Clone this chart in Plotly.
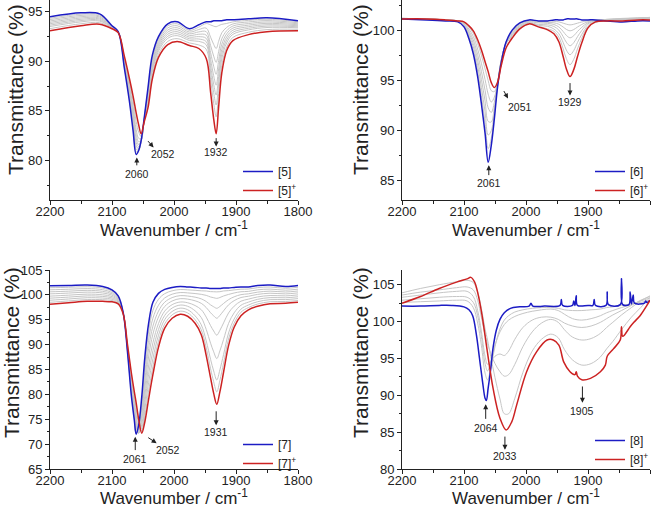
import plotly.graph_objects as go

# ---------------- Panel 1 : [5] / [5]+ ----------------
wn1 = [2200, 2150, 2120, 2100, 2090, 2080, 2072, 2066, 2061, 2057, 2053, 2048, 2042, 2035, 2025,
       2010, 1995, 1975, 1960, 1948, 1941, 1936, 1932, 1928, 1923, 1915, 1905, 1880, 1850, 1800]
blue1 = [94.5, 94.9, 94.8, 93.6, 93.0, 89.3, 86.0, 83.0, 80.6, 81.0, 82.0, 84.3, 87.3, 90.6, 92.5,
         93.8, 94.0, 93.3, 93.7, 94.0, 94.0, 94.1, 94.1, 94.1, 94.1, 94.2, 94.2, 94.3, 94.4, 94.1]
red1 = [93.1, 93.6, 93.75, 93.3, 92.9, 90.5, 88.3, 86.5, 84.8, 83.6, 82.7, 83.9, 85.3, 88.2, 90.4,
        91.7, 92.0, 91.6, 91.3, 90.3, 86.9, 84.2, 82.7, 85.4, 88.8, 91.1, 92.1, 92.7, 93.0, 93.1]
grays1 = [
    [94.36, 94.77, 94.70, 93.57, 92.99, 89.42, 86.23, 83.35, 80.84, 81.01, 81.94, 84.26, 87.1, 90.36, 92.29,
     93.59, 93.8, 93.13, 93.46, 93.82, 93.68, 93.56, 93.5, 93.61, 93.74, 93.83, 93.99, 94.14, 94.26, 94.0],
    [94.22, 94.64, 94.59, 93.54, 92.98, 89.54, 86.46, 83.7, 81.12, 81.07, 81.92, 84.22, 86.9, 90.12, 92.08,
     93.38, 93.6, 92.96, 93.22, 93.36, 92.44, 91.72, 91.3, 92.02, 92.88, 93.43, 93.78, 93.98, 94.12, 93.9],
    [94.08, 94.51, 94.49, 93.51, 92.97, 89.66, 86.69, 84.05, 81.44, 81.19, 81.92, 84.18, 86.7, 89.88, 91.87,
     93.17, 93.4, 92.79, 92.98, 93.0, 91.61, 90.53, 89.9, 90.98, 92.27, 93.1, 93.57, 93.82, 93.98, 93.8],
    [93.94, 94.38, 94.38, 93.48, 92.96, 89.78, 86.92, 84.4, 81.8, 81.37, 81.94, 84.14, 86.5, 89.64, 91.66,
     92.96, 93.2, 92.62, 92.74, 92.65, 90.88, 89.5, 88.7, 90.08, 91.72, 92.79, 93.36, 93.66, 93.84, 93.7],
    [93.8, 94.25, 94.28, 93.45, 92.95, 89.9, 87.15, 84.75, 82.2, 81.6, 82.0, 84.1, 86.3, 89.4, 91.45,
     92.75, 93.0, 92.45, 92.5, 92.32, 90.2, 88.55, 87.6, 89.24, 91.2, 92.48, 93.15, 93.5, 93.7, 93.6],
    [93.66, 94.12, 94.17, 93.42, 92.94, 90.02, 87.38, 85.1, 82.64, 81.89, 82.08, 84.06, 86.1, 89.16, 91.24,
     92.54, 92.8, 92.28, 92.26, 91.99, 89.57, 87.69, 86.6, 88.48, 90.72, 92.18, 92.94, 93.34, 93.56, 93.5],
    [93.52, 93.99, 94.07, 93.39, 92.93, 90.14, 87.61, 85.45, 83.12, 82.23, 82.2, 84.02, 85.9, 88.92, 91.03,
     92.33, 92.6, 92.11, 92.02, 91.67, 88.94, 86.83, 85.6, 87.71, 90.24, 91.87, 92.73, 93.18, 93.42, 93.4],
    [93.31, 93.8, 93.91, 93.35, 92.92, 90.32, 87.96, 85.98, 83.91, 82.85, 82.42, 83.96, 85.6, 88.56, 90.72,
     92.02, 92.3, 91.86, 91.66, 91.22, 88.15, 85.78, 84.4, 86.77, 89.61, 91.45, 92.42, 92.94, 93.21, 93.25],
]

# ---------------- Panel 2 : [6] / [6]+ ----------------
wn2 = [2200, 2160, 2130, 2110, 2100, 2092, 2085, 2078, 2072, 2066, 2061, 2056, 2051, 2046, 2040, 2032,
       2022, 2010, 1995, 1980, 1965, 1955, 1947, 1940, 1935, 1929, 1923, 1917, 1910, 1900, 1888, 1870,
       1845, 1820, 1800]
blue2 = [101.2, 101.1, 101.0, 100.9, 100.4, 99.2, 97.7, 95.4, 92.7, 89.7, 86.8, 88.5, 91.2, 94.3, 96.8, 98.9,
         100.1, 100.8, 101.1, 101.0, 101.0, 101.1, 101.1, 101.1, 101.2, 101.2, 101.2, 101.2, 101.1, 101.1, 101.1, 101.0,
         100.9, 101.0, 101.0]
red2 = [101.2, 101.2, 101.1, 101.0, 100.9, 100.5, 100.0, 99.1, 98.1, 96.9, 95.9, 94.8, 94.3, 94.8, 96.5, 98.3,
        99.3, 100.2, 100.7, 100.4, 100.1, 99.7, 98.9, 97.4, 96.2, 95.4, 96.1, 97.4, 98.8, 100.3, 100.9, 101.0,
        101.0, 101.1, 101.1]
grays2 = [
    [101.25, 101.2, 101.1, 100.95, 100.48, 99.4, 98.05, 95.96, 93.51, 90.78, 88.17, 89.19, 91.67, 94.39, 96.85, 98.87,
     99.98, 100.71, 101.03, 100.95, 101.0, 100.96, 100.9, 100.77, 100.67, 100.6, 100.66, 100.77, 100.89, 101.01, 101.1, 101.1,
     101.15, 101.2, 101.2],
    [101.25, 101.2, 101.1, 100.98, 100.55, 99.59, 98.39, 96.51, 94.32, 91.86, 89.53, 89.97, 91.93, 94.48, 96.89, 98.84,
     99.86, 100.62, 100.95, 100.9, 100.85, 100.81, 100.66, 100.38, 100.15, 100.0, 100.13, 100.38, 100.64, 100.92, 101.05, 101.15,
     101.2, 101.25, 101.3],
    [101.25, 101.2, 101.1, 101.0, 100.63, 99.79, 98.74, 97.07, 95.13, 92.94, 90.9, 90.84, 92.35, 94.57, 96.94, 98.81,
     99.74, 100.53, 100.88, 100.8, 100.75, 100.64, 100.39, 99.93, 99.55, 99.3, 99.51, 99.93, 100.36, 100.82, 101.0, 101.15,
     101.25, 101.3, 101.35],
    [101.25, 101.2, 101.1, 101.0, 100.7, 99.98, 99.08, 97.62, 95.94, 94.02, 92.26, 91.8, 92.82, 94.66, 96.98, 98.78,
     99.62, 100.44, 100.8, 100.65, 100.6, 100.44, 100.08, 99.41, 98.86, 98.5, 98.81, 99.41, 100.04, 100.71, 100.95, 101.1,
     101.2, 101.3, 101.35],
    [101.25, 101.2, 101.1, 101.0, 100.78, 100.18, 99.43, 98.18, 96.75, 95.1, 93.63, 92.85, 93.34, 94.75, 97.03, 98.75,
     99.55, 100.35, 100.78, 100.55, 100.45, 100.19, 99.71, 98.82, 98.08, 97.6, 98.02, 98.82, 99.65, 100.54, 100.9, 101.05,
     101.15, 101.25, 101.3],
    [101.25, 101.2, 101.1, 101.0, 100.85, 100.37, 99.77, 98.73, 97.56, 96.18, 95.0, 93.99, 93.9, 94.84, 97.07, 98.72,
     99.45, 100.26, 100.74, 100.46, 100.2, 99.96, 99.34, 98.18, 97.22, 96.6, 97.14, 98.18, 99.26, 100.42, 100.85, 101.0,
     101.1, 101.2, 101.25],
]

# ---------------- Panel 3 : [7] / [7]+ ----------------
wn3 = [2200, 2170, 2140, 2115, 2100, 2090, 2082, 2075, 2069, 2064, 2061, 2057, 2052, 2047, 2041, 2034, 2025,
       2015, 2003, 1990, 1978, 1966, 1956, 1948, 1941, 1936, 1931, 1926, 1920, 1912, 1903, 1892, 1880, 1865,
       1845, 1820, 1800]
blue3 = [101.85, 101.9, 102.0, 101.7, 101.0, 99.8, 96.5, 88.5, 80.0, 74.8, 72.0, 73.8, 79.5, 87.5, 94.2, 98.5, 100.3,
         101.1, 101.5, 101.7, 101.6, 101.5, 101.4, 101.4, 101.3, 101.3, 101.3, 101.3, 101.4, 101.4, 101.5, 101.6, 101.6, 101.9,
         102.0, 101.7, 101.9]
red3 = [98.1, 98.4, 98.7, 98.7, 98.6, 98.2, 96.2, 90.0, 84.5, 80.5, 78.3, 75.0, 72.2, 74.5, 79.0, 84.0, 89.5,
        93.3, 95.3, 96.1, 95.7, 94.3, 92.0, 87.8, 83.3, 80.2, 78.0, 80.5, 84.5, 89.8, 93.5, 95.8, 97.0, 97.7,
        98.2, 98.3, 98.5]
grays3 = [
    [101.44, 101.52, 101.64, 101.37, 100.74, 99.62, 96.47, 88.67, 80.5, 75.23, 72.1, 73.07, 78.11, 85.87, 92.53, 96.9, 99.11,
     100.24, 100.82, 101.08, 101.01, 100.92, 100.82, 100.78, 100.65, 100.63, 100.6, 100.64, 100.79, 100.86, 101.0, 101.14, 101.17, 101.46,
     101.58, 101.33, 101.53],
    [101.02, 101.13, 101.27, 101.04, 100.47, 99.45, 96.43, 88.83, 80.99, 75.7, 72.35, 72.54, 76.85, 84.29, 90.86, 95.31, 97.92,
     99.38, 100.14, 100.47, 100.4, 100.27, 100.11, 99.9, 99.57, 99.43, 99.3, 99.47, 99.78, 100.09, 100.38, 100.63, 100.7, 101.02,
     101.16, 100.95, 101.15],
    [100.61, 100.74, 100.91, 100.71, 100.21, 99.27, 96.4, 89.0, 81.49, 76.24, 72.76, 72.26, 75.77, 82.77, 89.18, 93.71, 96.74,
     98.53, 99.45, 99.85, 99.77, 99.54, 99.2, 98.67, 97.99, 97.61, 97.3, 97.67, 98.28, 99.04, 99.61, 100.05, 100.21, 100.55,
     100.75, 100.58, 100.78],
    [100.2, 100.36, 100.55, 100.38, 99.94, 99.1, 96.37, 89.16, 81.98, 76.81, 73.28, 72.15, 74.8, 81.28, 87.51, 92.12, 95.55,
     97.67, 98.77, 99.24, 99.15, 98.81, 98.3, 97.45, 96.4, 95.79, 95.3, 95.87, 96.8, 98.0, 98.84, 99.47, 99.72, 100.1,
     100.33, 100.2, 100.4],
    [99.75, 99.94, 100.15, 100.02, 99.66, 98.9, 96.33, 89.34, 82.52, 77.49, 74.04, 72.29, 73.92, 79.72, 85.69, 90.38, 94.25,
     96.73, 98.03, 98.56, 98.42, 97.86, 97.02, 95.53, 93.81, 92.74, 91.9, 92.87, 94.37, 96.37, 97.73, 98.73, 99.14, 99.59,
     99.87, 99.8, 100.0],
    [99.34, 99.55, 99.79, 99.69, 99.39, 98.73, 96.3, 89.5, 83.02, 78.18, 74.9, 72.66, 73.29, 78.35, 84.02, 88.78, 93.06,
     95.87, 97.35, 97.95, 97.71, 96.8, 95.44, 93.05, 90.28, 88.55, 87.2, 88.73, 91.07, 94.27, 96.39, 97.91, 98.54, 99.11,
     99.45, 99.42, 99.62],
    [98.92, 99.17, 99.43, 99.36, 99.13, 98.55, 96.27, 89.67, 83.51, 78.9, 75.87, 73.22, 72.77, 77.01, 82.34, 87.19, 91.88,
     95.02, 96.66, 97.33, 97.02, 95.79, 93.97, 90.74, 87.03, 84.71, 82.9, 84.93, 88.04, 92.33, 95.14, 97.13, 97.96, 98.63,
     99.04, 99.05, 99.25],
    [98.51, 98.78, 99.06, 99.03, 98.86, 98.38, 96.23, 89.84, 84.01, 79.67, 77.02, 74.01, 72.41, 75.73, 80.67, 85.59, 90.69,
     94.16, 95.98, 96.72, 96.37, 95.01, 92.98, 89.33, 85.16, 82.54, 80.5, 82.8, 86.29, 91.13, 94.29, 96.51, 97.45, 98.17,
     98.62, 98.67, 98.87],
]

# ---------------- Panel 4 : [8] / [8]+ ----------------
wn4_blue = [2200, 2170, 2140, 2120, 2100, 2092, 2086, 2080, 2075, 2070, 2066, 2064, 2061, 2057, 2053, 2048, 2042,
            2035, 2025, 2010, 1995, 1992, 1989, 1970, 1945, 1943, 1941, 1925, 1923, 1921, 1919, 1917, 1900, 1892,
            1890, 1888, 1871, 1869, 1867, 1848, 1846, 1844, 1834, 1832, 1830, 1827, 1825, 1809, 1807, 1805, 1800]
blue4 = [102.1, 102.1, 102.2, 102.2, 102.0, 101.6, 100.8, 98.2, 95.0, 91.8, 89.6, 89.3, 91.0, 93.5, 96.5, 98.8, 100.3,
         101.2, 101.8, 102.0, 102.1, 102.5, 102.1, 102.1, 102.2, 103.0, 102.2, 102.2, 102.8, 102.2, 103.5, 102.2, 102.2, 102.2,
         103.0, 102.2, 102.2, 104.0, 102.3, 102.3, 105.8, 102.3, 102.3, 104.0, 102.4, 103.6, 102.5, 102.5, 102.8, 102.6, 102.9]
wn4_red = [2200, 2170, 2140, 2112, 2095, 2089, 2083, 2077, 2071, 2063, 2053, 2042, 2032, 2023, 2015, 1999, 1983,
           1966, 1956, 1947, 1939, 1929, 1921, 1919, 1917, 1910, 1896, 1880, 1872, 1869, 1859, 1848, 1846, 1844,
           1832, 1826, 1816, 1805, 1800]
red4 = [102.5, 103.4, 104.5, 105.35, 105.8, 106.0, 105.4, 103.6, 100.9, 96.3, 90.9, 86.9, 85.3, 86.4, 88.7, 93.2, 95.9,
        97.5, 97.5, 96.8, 94.5, 93.2, 92.8, 93.2, 92.6, 92.1, 92.3, 93.2, 94.1, 95.3, 96.3, 97.5, 99.3, 98.0,
        99.3, 99.9, 100.8, 102.2, 102.9]
wn4_gray = [2200, 2170, 2140, 2112, 2095, 2085, 2078, 2072, 2066, 2062, 2057, 2050, 2042, 2035, 2028, 2018, 2005,
            1990, 1975, 1960, 1948, 1938, 1925, 1910, 1895, 1880, 1870, 1860, 1846, 1830, 1815, 1800]
grays4 = [
    [102.6, 102.7, 102.8, 102.9, 102.8, 101.9, 99.8, 96.8, 93.0, 92.1, 93.6, 96.6, 99.0, 100.2, 100.8, 101.3, 101.6,
     101.8, 101.9, 101.9, 101.8, 101.6, 101.5, 101.5, 101.6, 101.7, 101.9, 102.0, 102.2, 102.4, 102.6, 102.9],
    [102.9, 103.1, 103.3, 103.4, 103.3, 102.6, 100.8, 98.0, 94.3, 93.3, 94.5, 96.8, 98.6, 99.6, 100.2, 100.7, 101.1,
     101.4, 101.6, 101.7, 101.5, 101.0, 100.4, 100.2, 100.4, 100.8, 101.2, 101.5, 101.9, 102.3, 102.8, 103.2],
    [103.3, 103.6, 103.9, 104.1, 104.1, 103.4, 101.5, 98.7, 95.3, 94.2, 94.6, 95.3, 95.6, 95.4, 96.0, 97.6, 99.2,
     100.2, 100.6, 100.6, 100.3, 99.8, 99.4, 99.2, 99.4, 99.9, 100.4, 100.9, 101.5, 102.2, 102.9, 103.4],
    [103.6, 104.0, 104.3, 104.6, 104.7, 104.3, 102.9, 100.6, 98.2, 97.0, 95.7, 94.3, 93.2, 92.6, 92.8, 94.2, 96.6,
     98.6, 99.8, 100.3, 99.9, 98.9, 97.9, 97.5, 97.7, 98.4, 99.2, 99.9, 100.9, 101.9, 102.8, 103.5],
    [103.9, 104.5, 105.0, 105.4, 105.6, 105.3, 104.0, 101.8, 99.0, 97.5, 95.3, 92.4, 89.5, 87.5, 87.5, 89.6, 93.1,
     96.0, 97.6, 98.3, 97.8, 96.2, 94.8, 94.1, 94.3, 95.2, 96.3, 97.3, 98.9, 100.6, 101.9, 103.3],
]

# legend labels, axis titles and peak labels
names_blue = ["[5]", "[6]", "[7]", "[8]"]
names_red = ["[5]<sup>+</sup>", "[6]<sup>+</sup>", "[7]<sup>+</sup>", "[8]<sup>+</sup>"]
x_title = "Wavenumber / cm<sup>-1</sup>"
y_title = "Transmittance (%)"
y_ranges = [[76, 96.2], [83, 103.1], [65, 105], [80, 107]]

# peak labels: (panel, x, y, text)
peak_labels = [
    (0, 2060, 78.6, "2060"), (0, 2018, 80.6, "2052"), (0, 1932, 80.8, "1932"),
    (1, 2060, 84.7, "2061"), (1, 2010, 92.3, "2051"), (1, 1929, 92.8, "1929"),
    (2, 2062.5, 67.0, "2061"), (2, 2009, 68.8, "2052"), (2, 1932, 72.5, "1931"),
    (3, 2065, 85.6, "2064"), (3, 2034, 81.7, "2033"), (3, 1909, 87.9, "1905"),
]
# arrows: (panel, tail_x, tail_y, head_x, head_y)
peak_arrows = [
    (0, 2060, 79.35, 2060, 80.3), (0, 2044, 82.1, 2033, 81.3), (0, 1932, 82.4, 1932, 81.4),
    (1, 2060, 85.35, 2060, 86.5), (1, 2037, 94.1, 2029, 93.2), (1, 1929, 94.9, 1929, 93.5),
    (2, 2062.5, 68.5, 2062.5, 71.5), (2, 2044, 71.5, 2028, 70.2), (2, 1932, 76.9, 1932, 73.8),
    (3, 2065, 86.6, 2065, 88.8), (3, 2034, 84.6, 2034, 82.6), (3, 1909, 91.4, 1909, 89.0),
]

FONT = "Liberation Sans, Arial, sans-serif"
INK = "#222222"
GRAY = "#c6c6c6"
BLUE = "#1c1cc4"
RED = "#cc2222"

W, H = 664, 510
x_dom_px = [(50, 298), (402, 650), (50, 298), (402, 650)]
y_dom_px = [(0, 200), (0, 200), (270, 469), (270, 469)]
legend_pos = [(238, 157), (590, 157), (238, 430), (590, 426)]
# x-title bottom edge of the text box, px from top
xtitle_pos = [(174, 242), (526, 242), (174, 510), (526, 510)]
ytitle_pos = [(15, 90), (360, 90), (11, 353), (360, 353)]

panels = [
    (wn1, grays1, wn1, blue1, wn1, red1),
    (wn2, grays2, wn2, blue2, wn2, red2),
    (wn3, grays3, wn3, blue3, wn3, red3),
    (wn4_gray, grays4, wn4_blue, blue4, wn4_red, red4),
]

fig = go.Figure()
layout = dict(
    width=W, height=H, margin=dict(l=0, r=0, t=0, b=0),
    paper_bgcolor="white", plot_bgcolor="white",
    font=dict(family=FONT, color=INK), showlegend=True,
)
annotations = []

for i, (gw, grays, bw, b, rw, r) in enumerate(panels):
    sfx = "" if i == 0 else str(i + 1)
    xa, ya = "x" + sfx, "y" + sfx
    leg = "legend" + sfx
    for g in grays:
        fig.add_trace(go.Scatter(x=gw, y=g, mode="lines", xaxis=xa, yaxis=ya,
                                 line=dict(color=GRAY, width=1, shape="spline"),
                                 showlegend=False, hoverinfo="skip"))
    fig.add_trace(go.Scatter(x=bw, y=b, mode="lines", xaxis=xa, yaxis=ya, name=names_blue[i], legend=leg,
                             line=dict(color=BLUE, width=1.5, shape="spline")))
    fig.add_trace(go.Scatter(x=rw, y=r, mode="lines", xaxis=xa, yaxis=ya, name=names_red[i], legend=leg,
                             line=dict(color=RED, width=1.5, shape="spline")))

    x0, x1 = x_dom_px[i]
    y0, y1 = y_dom_px[i]
    layout["xaxis" + sfx] = dict(
        domain=[x0 / W, x1 / W], anchor=ya, range=[2200, 1800],
        tickmode="linear", tick0=1800, dtick=100,
        ticks="outside", ticklen=4, tickwidth=1, tickcolor=INK,
        showline=True, linecolor=INK, linewidth=1, showgrid=False, zeroline=False,
        tickfont=dict(size=13, color=INK, family=FONT), ticklabelstandoff=-5,
        minor=dict(ticks="outside", ticklen=2.5, tickwidth=1, tickcolor=INK, dtick=50, tick0=1800, showgrid=False),
        automargin=False,
    )
    layout["yaxis" + sfx] = dict(
        domain=[(H - y1) / H, (H - y0) / H], anchor=xa, range=y_ranges[i],
        tickmode="linear", tick0=0, dtick=5,
        ticks="outside", ticklen=4, tickwidth=1, tickcolor=INK,
        showline=True, linecolor=INK, linewidth=1, showgrid=False, zeroline=False,
        tickfont=dict(size=13, color=INK, family=FONT),
        minor=dict(ticks="outside", ticklen=2.5, tickwidth=1, tickcolor=INK, dtick=2.5, tick0=0, showgrid=False),
        automargin=False,
    )
    lx, ly = legend_pos[i]
    layout[leg] = dict(x=lx / W, y=(H - ly) / H, xanchor="left", yanchor="top",
                       bgcolor="rgba(0,0,0,0)", borderwidth=0, itemwidth=30, tracegroupgap=0,
                       font=dict(size=12, color=INK, family=FONT))
    tx, ty = xtitle_pos[i]
    annotations.append(dict(xref="paper", yref="paper", x=tx / W, y=(H - ty) / H, text=x_title,
                            showarrow=False, xanchor="center", yanchor="bottom",
                            font=dict(size=17, color=INK, family=FONT)))
    tx, ty = ytitle_pos[i]
    annotations.append(dict(xref="paper", yref="paper", x=tx / W, y=(H - ty) / H, text=y_title,
                            showarrow=False, xanchor="center", yanchor="middle", textangle=-90,
                            font=dict(size=21, color=INK, family=FONT)))

for (p, x, y, t) in peak_labels:
    sfx = "" if p == 0 else str(p + 1)
    annotations.append(dict(xref="x" + sfx, yref="y" + sfx, x=x, y=y, text=t, showarrow=False,
                            font=dict(size=10.5, color=INK, family=FONT), xanchor="center", yanchor="middle"))
for (p, tx, ty, hx, hy) in peak_arrows:
    sfx = "" if p == 0 else str(p + 1)
    annotations.append(dict(xref="x" + sfx, yref="y" + sfx, x=hx, y=hy, ax=tx, ay=ty,
                            axref="x" + sfx, ayref="y" + sfx, text="", showarrow=True,
                            arrowhead=2, arrowsize=1, arrowwidth=1, arrowcolor=INK,
                            standoff=0, startstandoff=0))
layout["annotations"] = annotations

fig.update_layout(**layout)
fig.write_html("out.html", config={"displayModeBar": False},
               post_script="document.body.style.margin='0px';")
